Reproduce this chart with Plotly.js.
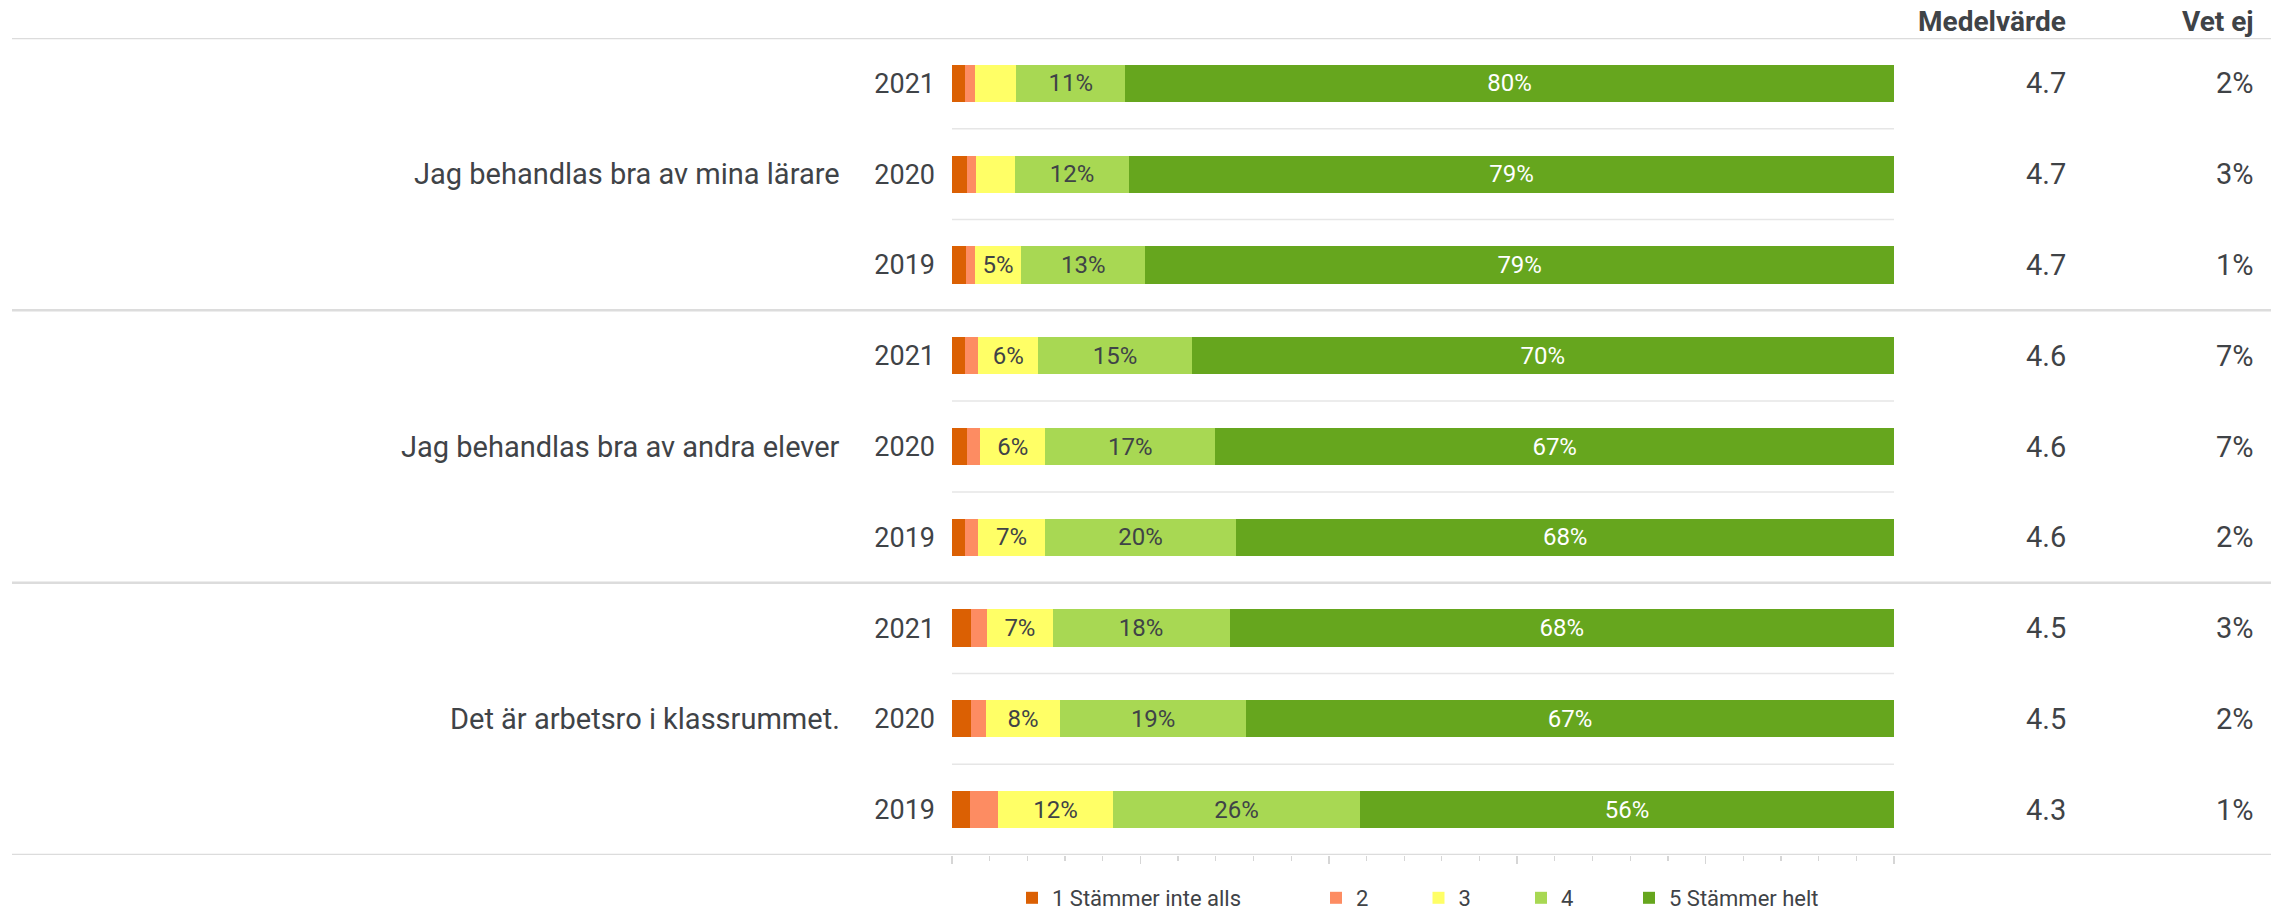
<!DOCTYPE html>
<html>
<head>
<meta charset="utf-8">
<script src="https://cdn.plot.ly/plotly-3.0.1.min.js"></script>
<style>html,body{margin:0;padding:0;background:#fff;}#chart{width:2284px;height:913px;}</style>
</head>
<body>
<div id="chart"></div>
<script>
// ---- data ----
const questions = ["Jag behandlas bra av mina lärare", "Jag behandlas bra av andra elever", "Det är arbetsro i klassrummet."];
const years = ["2021", "2020", "2019"];
const seriesNames = ["1 Stämmer inte alls", "2", "3", "4", "5 Stämmer helt"];
// percent of respondents per row (rows: q1 2021, q1 2020, q1 2019, q2 2021, ...)
const s1 = [1.4, 1.5, 1.5, 1.3, 1.5, 1.3, 1.9, 2.0, 1.9];
const s2 = [1.0, 1.0, 0.9, 1.3, 1.3, 1.4, 1.7, 1.5, 2.9];
const s3 = [4.3, 4.0, 4.9, 6.0, 6.4, 6.9, 6.7, 7.7, 12.1];
const s4 = [11.3, 11.8, 13.1, 15.3, 16.8, 19.8, 18.1, 19.2, 25.9];
const s5 = [80, 79, 79, 70, 67, 68, 68, 67, 56];
const meanValues = [4.7, 4.7, 4.7, 4.6, 4.6, 4.6, 4.5, 4.5, 4.3];
const dontKnow = [2, 3, 1, 7, 7, 2, 3, 2, 1];
const colors = ["#db6003", "#fd8c62", "#ffff66", "#a8d853", "#66a61e"];

// ---- build ----
const rowLabels = [];
const rowPos = [];
questions.forEach((q, qi) => years.forEach((y, yi) => { rowLabels.push(y); rowPos.push(qi * years.length + yi); }));

const textColor = "#3f4347";
const font = "Roboto, 'Open Sans', sans-serif";
const legendOf = ["legend", "legend2", "legend2", "legend2", "legend3"];
const allSeries = [s1, s2, s3, s4, s5];
const traces = allSeries.map((vals, i) => ({
  type: "bar",
  orientation: "h",
  name: seriesNames[i],
  x: vals,
  y: rowPos,
  marker: { color: colors[i], line: { width: 0 } },
  text: vals.map(v => Math.round(v) >= 5 ? Math.round(v) + "%" : ""),
  textposition: "inside",
  insidetextanchor: "middle",
  textfont: { family: font, size: 24, color: i === 4 ? "#ffffff" : textColor },
  hoverinfo: "name+text",
  legend: legendOf[i]
}));

const W = 942; // plot width px
const H = 817; // plot height px
const px2x = p => (p - 952) / W;

const annotations = [];
questions.forEach((q, qi) => {
  annotations.push({ text: q, xref: "paper", yref: "y", x: px2x(842), y: qi * years.length + 1,
    xanchor: "right", yanchor: "middle", showarrow: false, font: { family: font, size: 29, color: textColor } });
});
rowPos.forEach((p, i) => {
  annotations.push({ text: meanValues[i].toFixed(1), xref: "paper", yref: "y", x: px2x(2068), y: p,
    xanchor: "right", yanchor: "middle", showarrow: false, font: { family: font, size: 29, color: textColor } });
  annotations.push({ text: dontKnow[i] + "%", xref: "paper", yref: "y", x: px2x(2256), y: p,
    xanchor: "right", yanchor: "middle", showarrow: false, font: { family: font, size: 29, color: textColor } });
});
[["Medelvärde", 2068], ["Vet ej", 2256]].forEach(([t, px]) => {
  annotations.push({ text: "<b>" + t + "</b>", xref: "paper", yref: "paper", x: px2x(px), y: 1 + 16 / H,
    xanchor: "right", yanchor: "middle", showarrow: false, font: { family: font, size: 28, color: textColor } });
});

const shapes = [];
const fullL = px2x(12), fullR = px2x(2271);
[-0.5, 2.5, 5.5, 8.5].forEach(yv => shapes.push({ type: "line", xref: "paper", yref: "y", x0: fullL, x1: fullR, y0: yv, y1: yv,
  line: { color: "#dcdcdc", width: 2.5 }, layer: "below" }));
[0.5, 1.5, 3.5, 4.5, 6.5, 7.5].forEach(yv => shapes.push({ type: "line", xref: "paper", yref: "y", x0: 0, x1: 1, y0: yv, y1: yv,
  line: { color: "#e6e6e6", width: 1.5 }, layer: "below" }));

const legendBase = { orientation: "h", xanchor: "left", y: -64 / H, yanchor: "bottom",
  font: { family: font, size: 22, color: textColor }, bgcolor: "rgba(0,0,0,0)", borderwidth: 0, traceorder: "normal", itemwidth: 30 };

const layout = {
  width: 2284, height: 913,
  margin: { l: 952, r: 390, t: 38, b: 58, pad: 0, autoexpand: false },
  paper_bgcolor: "#ffffff", plot_bgcolor: "#ffffff",
  barmode: "stack", barnorm: "percent", bargap: 0.59,
  uniformtext: { minsize: 24, mode: "show" },
  font: { family: font, color: textColor },
  xaxis: { range: [0, 100], showgrid: false, zeroline: false, showline: false, showticklabels: false,
    ticks: "outside", tick0: 0, dtick: 20, ticklen: 8, tickwidth: 1.5, tickcolor: "#d6d6d6",
    minor: { ticks: "outside", dtick: 4, ticklen: 5, tickwidth: 1.2, tickcolor: "#d6d6d6" }, fixedrange: true },
  yaxis: { range: [8.5, -0.5], tickvals: rowPos, ticktext: rowLabels, showgrid: false, zeroline: false, showline: false,
    ticks: "", ticklabelstandoff: 16, tickfont: { family: font, size: 27, color: textColor }, fixedrange: true },
  showlegend: true,
  legend: Object.assign({}, legendBase, { x: px2x(1012) }),
  legend2: Object.assign({}, legendBase, { x: px2x(1316), entrywidth: 57.5, entrywidthmode: "pixels" }),
  legend3: Object.assign({}, legendBase, { x: px2x(1629) }),
  annotations: annotations,
  shapes: shapes
};

Plotly.newPlot("chart", traces, layout, { displayModeBar: false, staticPlot: true });
</script>
</body>
</html>
